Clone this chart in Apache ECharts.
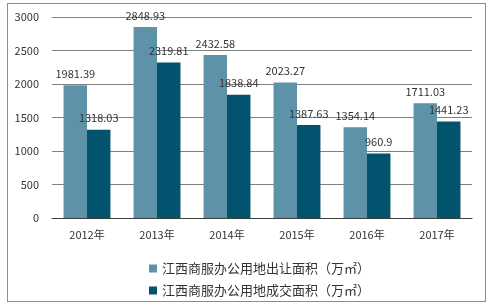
<!DOCTYPE html>
<html><head><meta charset="utf-8">
<script src="https://cdn.jsdelivr.net/npm/echarts@6/dist/echarts.min.js"></script>
<style>html,body{margin:0;padding:0;background:#fff}#c{width:493px;height:307px}
#b{position:absolute;left:7px;top:3px;width:479px;height:299px;border:1px solid #8c8c8c;box-sizing:border-box;pointer-events:none}</style>
</head><body><div id="c"></div><div id="b"></div>
<script>
var categories = ['2012年','2013年','2014年','2015年','2016年','2017年'];
var transferArea = [1981.39, 2848.93, 2432.58, 2023.27, 1354.14, 1711.03];
var dealArea = [1318.03, 2319.81, 1838.84, 1387.63, 960.9, 1441.23];
var seriesNames = ['江西商服办公用地出让面积（万㎡）','江西商服办公用地成交面积（万㎡）'];
var font = '"Noto Sans CJK SC","Microsoft YaHei",sans-serif';
var chart = echarts.init(document.getElementById('c'));
chart.setOption({
  animation:false,
  textStyle:{fontFamily:font},
  grid:{left:52,right:21,top:17,bottom:89,containLabel:false},
  legend:{orient:'vertical',left:144,top:257,itemWidth:8,itemHeight:8,itemGap:9,icon:'rect',
    textStyle:{fontSize:13,color:'#333',fontFamily:font}, data:seriesNames},
  xAxis:{type:'category',data:categories,axisTick:{show:false},
    axisLine:{lineStyle:{color:'#404040',width:1}},
    axisLabel:{fontSize:11,color:'#333',margin:11,fontFamily:font}},
  yAxis:{type:'value',min:0,max:3000,interval:500,
    axisLine:{show:false},axisTick:{show:false},
    splitLine:{lineStyle:{color:'#808080',width:1}},
    axisLabel:{fontSize:11,color:'#333',margin:13,fontFamily:font,formatter:function(v){return String(v);}}},
  series:[
    {name:seriesNames[0],type:'bar',data:transferArea,barGap:'0%',barCategoryGap:'33%',
     itemStyle:{color:'#5e92a9'},
     label:{show:true,position:'top',distance:6,fontSize:11,color:'#333',fontFamily:font}},
    {name:seriesNames[1],type:'bar',data:dealArea,
     itemStyle:{color:'#02536d'},
     label:{show:true,position:'top',distance:6,fontSize:11,color:'#333',fontFamily:font}}
  ]
});
</script></body></html>
